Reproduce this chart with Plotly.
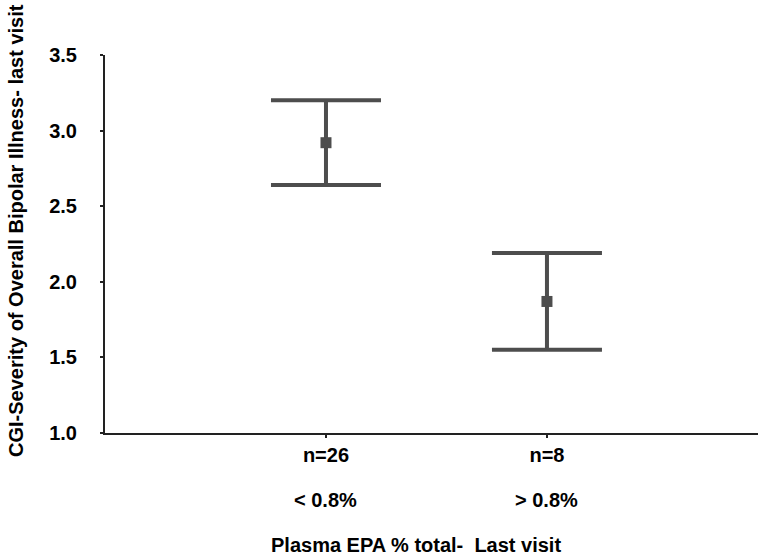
import plotly.graph_objects as go

# ---- data ----
categories = ["< 0.8%", "> 0.8%"]
n_labels = ["n=26", "n=8"]
means = [2.92, 1.87]
errors = [0.28, 0.32]
y_ticks = [1.0, 1.5, 2.0, 2.5, 3.0, 3.5]
y_title = "CGI-Severity of Overall Bipolar Illness- last visit"
x_title = "Plasma EPA % total-&nbsp; Last visit"

GRAY = "#4d4d4d"
FONT = "Liberation Sans, Arial, sans-serif"

fig = go.Figure()
fig.add_trace(go.Scatter(
    x=categories, y=means, mode="markers",
    marker=dict(symbol="square", size=11, color=GRAY),
    error_y=dict(type="data", array=errors, visible=True,
                 color=GRAY, thickness=4, width=55),
    showlegend=False, cliponaxis=False,
))

fig.update_layout(
    width=758, height=558,
    margin=dict(l=105, r=0, t=55, b=125),
    plot_bgcolor="white", paper_bgcolor="white",
    font=dict(family=FONT, size=20, color="black"),
    xaxis=dict(
        type="category", categoryorder="array", categoryarray=categories,
        range=[-1, 1.955], showgrid=False, zeroline=False,
        showline=True, linecolor="#222", linewidth=2,
        ticks="outside", ticklen=3, tickwidth=2, tickcolor="#222",
        tickvals=categories, ticktext=[f"<b>{t}</b>" for t in n_labels],
        tickfont=dict(size=20),
    ),
    yaxis=dict(
        range=[1, 3.5], tickvals=y_ticks,
        ticktext=[f"<b>{v:.1f}</b>" for v in y_ticks],
        showgrid=False, zeroline=False,
        showline=True, linecolor="#222", linewidth=2,
        ticks="outside", ticklen=3, tickwidth=2, tickcolor="#222",
        ticklabelstandoff=19,
        tickfont=dict(size=20),
    ),
)

annotations = []
for c in categories:
    annotations.append(dict(
        x=c, xref="x", y=-0.177, yref="paper",
        text="<b>" + c.replace("<", "&lt;").replace(">", "&gt;") + "</b>",
        showarrow=False, xanchor="center", yanchor="middle",
        font=dict(size=20),
    ))
annotations.append(dict(
    x=0.476, xref="paper", y=-0.296, yref="paper",
    text=f"<b>{x_title}</b>", showarrow=False,
    xanchor="center", yanchor="middle", font=dict(size=20),
))
annotations.append(dict(
    x=-0.136, xref="paper", y=0.535, yref="paper",
    text=f"<b>{y_title}</b>", showarrow=False, textangle=-90,
    xanchor="center", yanchor="middle", font=dict(size=20),
))
fig.update_layout(annotations=annotations)

fig.write_html("out.html")
